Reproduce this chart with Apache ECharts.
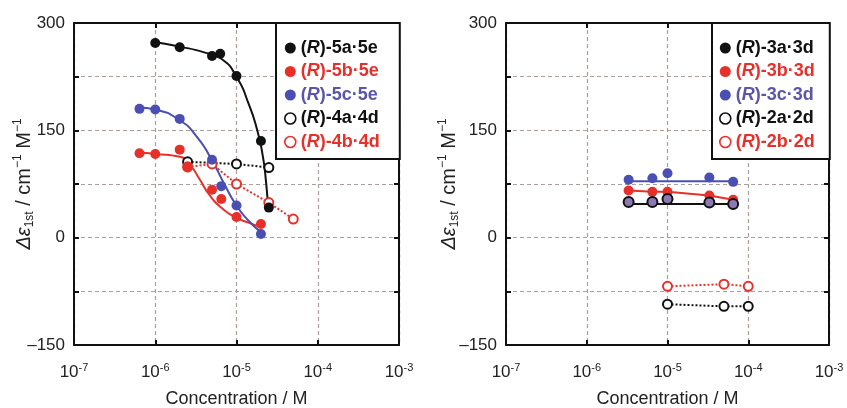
<!DOCTYPE html>
<html><head><meta charset="utf-8">
<script src="https://cdn.jsdelivr.net/npm/echarts@6/dist/echarts.min.js"></script>
<style>html,body{margin:0;padding:0;background:#fff}#c{width:847px;height:408px}</style>
</head><body><div id="c"></div>
<script>
// ---- tick labels ----
const xTickExps = [-7, -6, -5, -4, -3];
const yTickVals = [300, 150, 0, -150];
const yTickText = ['300', '150', '0', '\u2013150'];

// ---- left panel data ----
const conc5a = [1e-6, 2e-6, 5e-6, 6.3e-6, 1e-5, 2e-5, 2.5e-5];
const val5a  = [272, 266, 254, 257, 226, 135, 42];
const fit5aX = [1e-6, 2e-6, 4e-6, 6.5e-6, 1e-5, 1.4e-5, 1.8e-5, 2.1e-5, 2.3e-5, 2.45e-5];
const fit5aY = [273, 267, 259, 250, 225, 188, 150, 115, 80, 40];

const conc5b = [6.4e-7, 1e-6, 2e-6, 2.5e-6, 5e-6, 6.5e-6, 1e-5, 2e-5];
const val5b  = [118, 117, 123, 98, 67, 54, 29, 19];
const fit5bX = [6.4e-7, 1e-6, 2e-6, 2.7e-6, 3.5e-6, 4.7e-6, 6.8e-6, 1e-5, 1.4e-5, 2e-5];
const fit5bY = [119, 117, 113, 101, 82, 59, 40, 28, 21, 15];

const conc5c = [6.4e-7, 1e-6, 2e-6, 5e-6, 6.5e-6, 1e-5, 2e-5];
const val5c  = [180, 179, 166, 109, 72, 45, 5];
const fit5cX = [6.4e-7, 1e-6, 2e-6, 3.2e-6, 5e-6, 7e-6, 1e-5, 1.4e-5, 2e-5];
const fit5cY = [182, 179, 164, 142, 108, 76, 45, 24, 8];

const conc4a = [2.5e-6, 1e-5, 2.5e-5];
const val4a  = [106, 103, 98];
const conc4b = [2.5e-6, 5e-6, 1e-5, 2.5e-5, 5e-5];
const val4b  = [99, 103, 75, 49, 26];

// ---- right panel data ----
const conc3 = [3.3e-6, 6.5e-6, 1e-5, 3.3e-5, 6.5e-5];
const val3a = [50, 50, 54, 49, 47];
const val3b = [66, 64, 64, 59, 53];
const val3c = [81, 83, 90, 84, 78];
const fit3X = [3.3e-6, 6.5e-5];
const fit3aY = [47, 47];
const fit3cY = [79, 79];
const conc2 = [1e-5, 5e-5, 1e-4];
const val2a = [-93, -96, -96];
const val2b = [-68, -65, -68];

// ---- names ----
const namesL = ['(R)-5a\u00b75e', '(R)-5b\u00b75e', '(R)-5c\u00b75e', '(R)-4a\u00b74d', '(R)-4b\u00b74d'];
const namesR = ['(R)-3a\u00b73d', '(R)-3b\u00b73d', '(R)-3c\u00b73d', '(R)-2a\u00b72d', '(R)-2b\u00b72d'];

const FONT = 'Liberation Sans, Arial, sans-serif';
const BLACK = '#111111', RED = '#e8302a', BLUE = '#4a4fb3', BLUE_T = '#5a55a8', PURPLE = '#8c79b3';
const GRIDC = '#a9a09b';

const zip = (xs, ys) => xs.map((x, i) => [x, ys[i]]);

function xAxes(g) {
  return [{
    gridIndex: g, type: 'log', logBase: 10, min: 1e-7, max: 1e-3, position: 'bottom',
    axisLine: { show: true, onZero: false, lineStyle: { color: BLACK, width: 2 } },
    axisTick: { show: true, inside: true, length: 5, lineStyle: { color: BLACK, width: 2 } },
    splitLine: { show: true, lineStyle: { color: GRIDC, type: [4, 3], width: 1.2 } },
    axisLabel: {
      margin: 17, fontFamily: FONT, fontSize: 17, color: '#222',
      formatter: v => { const e = Math.round(Math.log10(v)); return xTickExps.indexOf(e) >= 0 ? '{b|10}{s|' + e + '}' : ''; },
      rich: { b: { fontFamily: FONT, fontSize: 17, lineHeight: 20, color: '#222' },
              s: { fontFamily: FONT, fontSize: 11, lineHeight: 11, verticalAlign: 'top', color: '#222' } }
    },
    name: 'Concentration / M', nameLocation: 'middle', nameGap: 45, nameMoveOverlap: false,
    nameTextStyle: { fontFamily: FONT, fontSize: 18, color: '#222', verticalAlign: 'top' }
  }, {
    gridIndex: g, type: 'log', logBase: 10, min: 1e-7, max: 1e-3, position: 'top',
    axisLine: { show: true, onZero: false, lineStyle: { color: BLACK, width: 2 } },
    axisTick: { show: true, inside: true, length: 5, lineStyle: { color: BLACK, width: 2 } },
    splitLine: { show: false }, axisLabel: { show: false }
  }];
}
function yAxes(g, gap) {
  return [{
    gridIndex: g, type: 'value', min: -150, max: 300, interval: 75, position: 'left',
    axisLine: { show: true, onZero: false, lineStyle: { color: BLACK, width: 2 } },
    axisTick: { show: true, inside: true, length: 5, lineStyle: { color: BLACK, width: 2 } },
    splitLine: { show: true, lineStyle: { color: GRIDC, type: [4, 3], width: 1.2 } },
    axisLabel: {
      margin: 9, fontFamily: FONT, fontSize: 17, color: '#222',
      formatter: v => { const i = yTickVals.indexOf(v); return i >= 0 ? yTickText[i] : ''; }
    },
    name: '{it|\u0394\u03b5}{sub|1st}{n| / cm}{sup|\u22121}{n| M}{sup|\u22121}',
    nameLocation: 'middle', nameRotate: 90, nameGap: gap, nameMoveOverlap: false,
    nameTextStyle: {
      fontFamily: FONT, fontSize: 20, color: '#222',
      rich: {
        it: { fontFamily: FONT, fontSize: 20, fontStyle: 'italic', lineHeight: 24, color: '#222' },
        n: { fontFamily: FONT, fontSize: 20, lineHeight: 24, color: '#222' },
        sub: { fontFamily: FONT, fontSize: 12, lineHeight: 12, verticalAlign: 'bottom', color: '#222' },
        sup: { fontFamily: FONT, fontSize: 12, lineHeight: 12, verticalAlign: 'top', color: '#222' }
      }
    }
  }, {
    gridIndex: g, type: 'value', min: -150, max: 300, interval: 75, position: 'right',
    axisLine: { show: true, onZero: false, lineStyle: { color: BLACK, width: 2 } },
    axisTick: { show: true, inside: true, length: 5, lineStyle: { color: BLACK, width: 2 } },
    splitLine: { show: false }, axisLabel: { show: false }
  }];
}

function fitLine(name, xs, ys, color, xi, yi, smooth) {
  return { name, type: 'line', xAxisIndex: xi, yAxisIndex: yi, data: zip(xs, ys), showSymbol: false, symbol: 'none',
    smooth: smooth ? 0.6 : false, lineStyle: { color, width: 2 }, z: 3, silent: true };
}
function dots(name, xs, ys, fill, border, xi, yi) {
  return { name, type: 'scatter', xAxisIndex: xi, yAxisIndex: yi, data: zip(xs, ys), symbol: 'circle', symbolSize: 10,
    itemStyle: { color: fill, borderColor: border, borderWidth: border ? 2 : 0, opacity: 1 }, z: 5, silent: true };
}
function linked(name, xs, ys, color, dotted, filled, xi, yi) {
  return { name, type: 'line', xAxisIndex: xi, yAxisIndex: yi, data: zip(xs, ys), symbol: 'circle', symbolSize: filled ? 10 : 9,
    showAllSymbol: true,
    itemStyle: { color: filled ? color : '#ffffff', borderColor: color, borderWidth: filled ? 0 : 2 },
    lineStyle: { color, width: 2, type: dotted ? [2, 2] : 'solid' }, z: 4, silent: true };
}

function legendItem(name, color, open, textColor) {
  return { name, icon: 'circle',
    itemStyle: open ? { color: '#ffffff', borderColor: color, borderWidth: 1.6 } : { color, borderWidth: 0 },
    textStyle: { color: textColor, rich: { i: { color: textColor, fontStyle: 'italic', fontWeight: 'bold', fontFamily: FONT, fontSize: 18, lineHeight: 17 } } } };
}
function legend(left, names, colors, padding) {
  return {
    left, top: 23, orient: 'vertical', selectedMode: false,
    data: names.map((n, i) => legendItem(n, colors[i][0], colors[i][1], colors[i][2])),
    padding, itemGap: 5.5, itemWidth: 11, itemHeight: 11, itemTextGap: 5,
    backgroundColor: '#ffffff', borderColor: BLACK, borderWidth: 2, borderRadius: 0,
    textStyle: { fontFamily: FONT, fontSize: 18, fontWeight: 'bold', lineHeight: 17 },
    formatter: n => n.replace('R', '{i|R}')
  };
}

const legColors = [[BLACK, false, BLACK], [RED, false, RED], [BLUE, false, BLUE_T], [BLACK, true, BLACK], [RED, true, RED]];

const option = {
  animation: false,
  backgroundColor: '#ffffff',
  grid: [
    { left: 74, top: 23, width: 325, height: 322, outerBoundsMode: 'none', containLabel: false },
    { left: 506, top: 23, width: 323, height: 322, outerBoundsMode: 'none', containLabel: false }
  ],
  xAxis: [...xAxes(0), ...xAxes(1)],
  yAxis: [...yAxes(0, 38), ...yAxes(1, 45)],
  legend: [
    legend(276, namesL, legColors, [16, 20, 8, 8]),
    legend(712, namesR, legColors, [16, 15, 8, 7])
  ],
  series: [
    fitLine('fit5a', fit5aX, fit5aY, BLACK, 0, 0, true),
    fitLine('fit5b', fit5bX, fit5bY, RED, 0, 0, true),
    fitLine('fit5c', fit5cX, fit5cY, BLUE, 0, 0, true),
    linked(namesL[3], conc4a, val4a, BLACK, true, false, 0, 0),
    linked(namesL[4], conc4b, val4b, RED, true, false, 0, 0),
    dots(namesL[2], conc5c, val5c, BLUE, null, 0, 0),
    dots(namesL[1], conc5b, val5b, RED, null, 0, 0),
    dots(namesL[0], conc5a, val5a, BLACK, null, 0, 0),

    fitLine('fit3a', fit3X, fit3aY, BLACK, 2, 2, false),
    fitLine('fit3c', fit3X, fit3cY, BLUE, 2, 2, false),
    linked(namesR[1], conc3, val3b, RED, false, true, 2, 2),
    dots(namesR[2], conc3, val3c, BLUE, null, 2, 2),
    dots(namesR[0], conc3, val3a, PURPLE, BLACK, 2, 2),
    linked(namesR[3], conc2, val2a, BLACK, true, false, 2, 2),
    linked(namesR[4], conc2, val2b, RED, true, false, 2, 2)
  ]
};
const chart = echarts.init(document.getElementById('c'), null, { renderer: 'canvas' });
chart.setOption(option);
</script></body></html>
